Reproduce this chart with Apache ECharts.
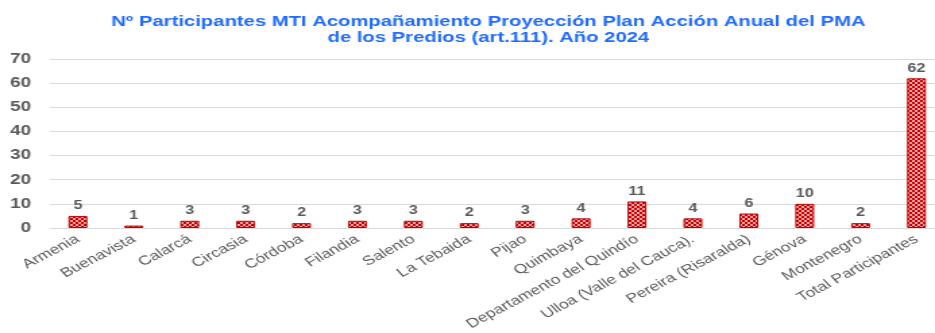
<!DOCTYPE html>
<html><head><meta charset="utf-8">
<script src="https://cdn.jsdelivr.net/npm/echarts@6/dist/echarts.min.js"></script>
<style>
html,body{margin:0;padding:0;background:#fff;overflow:hidden;width:935px;height:333px}
#c{width:700px;height:333px;transform:scaleX(1.3492);transform-origin:0 0}
</style>
</head><body><div id="c"></div>
<script>
const categories = ["Armenia","Buenavista","Calarcá","Circasia","Córdoba","Filandia","Salento","La Tebaida","Pijao","Quimbaya","Departamento del Quindío","Ulloa (Valle del Cauca).","Pereira (Risaralda)","Génova","Montenegro","Total Participantes"];
const participants = [5,1,3,3,2,3,3,2,3,4,11,4,6,10,2,62];
const yTicks = [0,10,20,30,40,50,60,70];

function makePattern(){
  const c = document.createElement('canvas');
  c.width = 4; c.height = 4;
  const g = c.getContext('2d');
  g.fillStyle = '#cc0000'; g.fillRect(0,0,4,4);
  g.fillStyle = '#f4a8a8';
  g.fillRect(0,0,2,2); g.fillRect(2,2,2,2);
  return c;
}

const chart = echarts.init(document.getElementById('c'));
chart.setOption({
  animation:false,
  title:{
    text:'Nº Participantes MTI Acompañamiento Proyección Plan Acción Anual del PMA\nde los Predios (art.111). Año 2024',
    left:357, top:9, textAlign:'center',
    textStyle:{fontFamily:'Liberation Sans, Arial', fontSize:15, fontWeight:'bold', color:'#1f6bff', lineHeight:16}
  },
  grid:{left:37, top:59, width:663, bottom:105, containLabel:false},
  xAxis:{
    type:'category', data:categories,
    axisLine:{show:true, lineStyle:{color:'#d9d9d9', width:1}},
    axisTick:{show:false},
    axisLabel:{interval:0, rotate:35, margin:10, color:'#595959', fontFamily:'Liberation Sans, Arial', fontSize:13}
  },
  yAxis:{
    type:'value', min:yTicks[0], max:yTicks[yTicks.length-1], interval:10,
    axisLine:{show:false}, axisTick:{show:false},
    splitLine:{lineStyle:{color:'#d9d9d9', width:1}},
    axisLabel:{color:'#595959', fontFamily:'Liberation Sans, Arial', fontSize:14, fontWeight:'bold', margin:14}
  },
  series:[{
    type:'bar', data:participants, barWidth:14,
    itemStyle:{color:{image:makePattern(), repeat:'repeat'}, borderColor:'#c00000', borderWidth:1},
    label:{show:true, position:'top', distance:4, color:'#595959', fontFamily:'Liberation Sans, Arial', fontSize:12, fontWeight:'bold'}
  }]
});
</script></body></html>
